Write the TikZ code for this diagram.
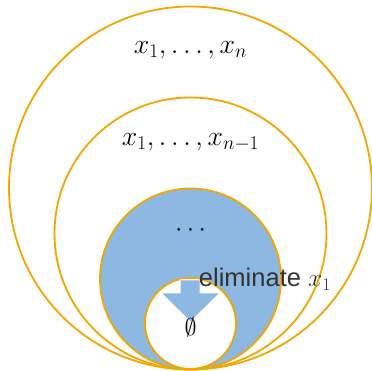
\documentclass[tikz,border=0pt]{standalone}
\usepackage{fix-cm}
\usepackage{fontspec}
\newfontfamily\labelfont{Liberation Sans}
\definecolor{ring}{RGB}{242,166,0}
\definecolor{fillblue}{RGB}{141,184,226}
\definecolor{txtgray}{RGB}{51,51,51}
\begin{document}
\begin{tikzpicture}[x=1pt,y=-1pt,
  ringc/.style={circle,draw=ring,line width=1.8pt,inner sep=0pt},
  mathlbl/.style={font=\fontsize{27.8}{32}\selectfont,inner sep=0pt}]
\useasboundingbox (0,0) rectangle (372,371);
\node[ringc,minimum size=363pt] (c1) at (190.5,188) {};
\node[ringc,minimum size=272pt] (c2) at (190.5,233.5) {};
\node[ringc,fill=fillblue,minimum size=181pt] (c3) at (190.5,279) {};
\node[ringc,fill=white,minimum size=91pt] (c4) at (190.5,323.5) {};
\fill[fillblue,draw=white,line width=1pt] (180,280) -- (200,280) -- (200,293) -- (220,293) -- (190.5,322) -- (161,293) -- (180,293) -- cycle;
\node[mathlbl] (l1) at (190.5,50) {$x_1,\ldots,x_n$};
\node[mathlbl] (l2) at (190.5,142) {$x_1,\ldots,x_{n-1}$};
\node[mathlbl,font=\fontsize{26.5}{30}\selectfont] (l3) at (190.5,231) {$\cdots$};
\node[mathlbl,font=\fontsize{24}{28}\selectfont] (l4) at (190.5,327) {$\emptyset$};
\node[inner sep=0pt,text=txtgray,font=\fontsize{25.5}{30}\selectfont] (el) at (265,279) {\labelfont eliminate \normalfont $x_1$};
\end{tikzpicture}
\end{document}
